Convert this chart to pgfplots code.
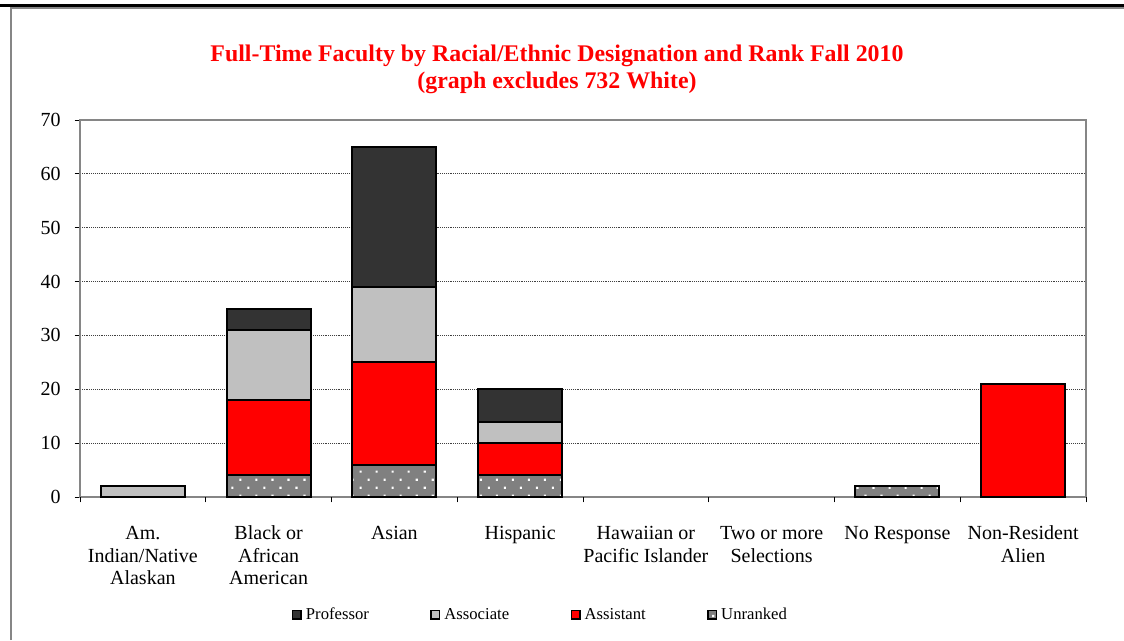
\documentclass[border=0pt]{standalone}
\usepackage{pgfplots}
\pgfplotsset{compat=1.18}
\usepackage{fontspec}
\setmainfont{Liberation Serif}
\usetikzlibrary{patterns.meta}
\definecolor{prof}{RGB}{51,51,51}
\definecolor{assoc}{RGB}{192,192,192}
\definecolor{asst}{RGB}{255,0,0}
\definecolor{unrk}{RGB}{128,128,128}
\definecolor{framegray}{RGB}{134,134,134}

\begin{document}
\begin{tikzpicture}
  \useasboundingbox (0,0) rectangle (843pt,-480pt);
  % outer frame of the chart area
  \fill[black] (0,-3pt) rectangle (843pt,-5.4pt);
  \draw[framegray, line width=1.5pt] (8.25pt,-480pt) -- (8.25pt,-6.2pt) -- (843pt,-6.2pt);
  % title
  \node[red, font=\bfseries\fontsize{17.9}{21}\selectfont, anchor=base] at (417.75pt,-46pt)
    {Full-Time Faculty by Racial/Ethnic Designation and Rank Fall 2010};
  \node[red, font=\bfseries\fontsize{17.9}{21}\selectfont, anchor=base] at (417.75pt,-66.5pt)
    {(graph excludes 732 White)};
  \begin{axis}[
    at={(60pt,-372.75pt)}, anchor=south west,
    scale only axis, width=754.5pt, height=282.75pt,
    ybar stacked, bar width=63pt,
    xmin=-0.5, xmax=7.5, ymin=0, ymax=70,
    ytick={0,10,...,70},
    xtick={0,...,7},
    xticklabels={{\strut Am.\\Indian/Native\\Alaskan},{\strut Black or\\African\\American},
      \strut Asian,\strut Hispanic,{\strut Hawaiian or\\Pacific Islander},
      {\strut Two or more\\Selections},\strut No Response,{\strut Non-Resident\\Alien}},
    x tick style={draw=none},
    extra x ticks={-0.5,0.5,...,7.5},
    extra x tick labels={},
    extra x tick style={grid=none, x tick style={draw=black, line width=0.6pt}},
    tick align=outside, major tick length=4pt,
    xtick pos=bottom, ytick pos=left,
    y tick style={black, line width=0.6pt},
    ymajorgrids, grid style={densely dotted, black!75, line width=0.6pt},
    axis line style={framegray, line width=1pt},
    /pgf/number format/assume math mode=true,
    y tick label style={font=\fontsize{15}{17}\selectfont, xshift=-7pt},
    x tick label style={font=\fontsize{15}{16.7}\selectfont, align=center, yshift=-13pt},
    legend columns=4, reverse legend,
    legend style={at={(0.458,-0.312)}, anchor=center, draw=none, fill=none,
      font=\fontsize{12.5}{15}\selectfont,
      /tikz/every even column/.append style={column sep=44pt},
      /tikz/every odd column/.append style={column sep=1pt}},
    legend image code/.code={\draw[#1, line width=1.2pt] (0pt,-3.2pt) rectangle (6.4pt,3.2pt);},
  ]
    \addplot[fill=unrk, draw=black, line width=1.5pt,
      postaction={pattern={Dots[distance=8.5pt,angle=45,radius=1.1pt]}, pattern color=white}]
      coordinates {(0,0) (1,4) (2,6) (3,4) (6,2) (7,0)};
    \addlegendentry{Unranked}
    \addplot[fill=asst, draw=black, line width=1.5pt]
      coordinates {(0,0) (1,14) (2,19) (3,6) (6,0) (7,21)};
    \addlegendentry{Assistant}
    \addplot[fill=assoc, draw=black, line width=1.5pt]
      coordinates {(0,2) (1,13) (2,14) (3,4) (6,0) (7,0)};
    \addlegendentry{Associate}
    \addplot[fill=prof, draw=black, line width=1.5pt]
      coordinates {(0,0) (1,4) (2,26) (3,6) (6,0) (7,0)};
    \addlegendentry{Professor}
  \end{axis}
\end{tikzpicture}
\end{document}
